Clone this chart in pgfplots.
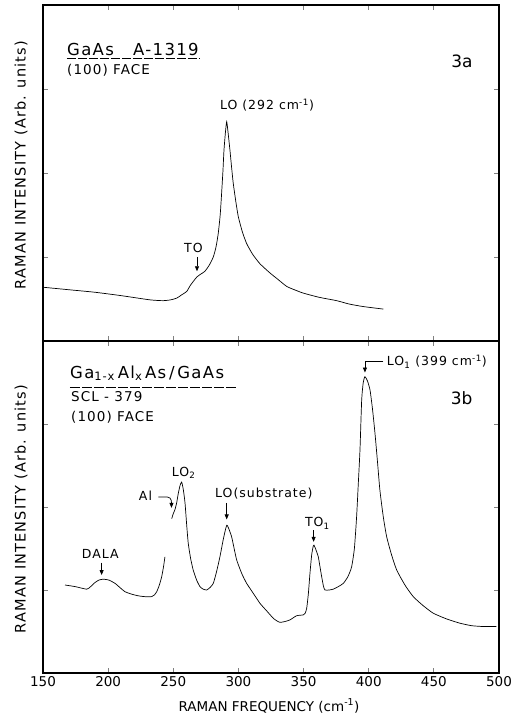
\documentclass[border=0pt]{standalone}
\usepackage{pgfplots}
\pgfplotsset{compat=1.18}
\usepackage{fontspec}
\setmainfont{DejaVu Sans}
\newfontfamily\wide{DejaVu Sans}[LetterSpace=8]
\usetikzlibrary{arrows.meta}

\pgfplotsset{
  raman/.style={
    scale only axis,
    width=456pt,
    xmin=150, xmax=500,
    ymin=0, ymax=4,
    xtick={150,200,...,500},
    ytick={1,2,3},
    yticklabels={},
    tick align=inside,
    major tick length=5pt,
    tick style={line width=0.9pt},
    axis line style={line width=1.4pt},
    clip=false,
    /pgf/number format/assume math mode=true,
    ticklabel style={font=\fontsize{13.5}{15}\selectfont},
  },
  spec/.style={black, line width=0.7pt, smooth, tension=0.35},
}

\begin{document}
\begin{tikzpicture}
\useasboundingbox (0,0) rectangle (514pt,715pt);
\tikzset{ann/.style={font=\wide\fontsize{12.5}{14}\selectfont, inner sep=0pt},
         big/.style={font=\wide\fontsize{16.5}{18}\selectfont},
         mid/.style={font=\wide\fontsize{13.5}{15}\selectfont},
         ylab/.style={rotate=90, font=\wide\fontsize{14.5}{16}\selectfont},
         arr/.style={-{Triangle[length=5pt,width=4pt]}, line width=0.7pt}}

% panel 3a
\begin{axis}[raman, height=336pt, at={(43pt,374pt)}, anchor=south west,
  xticklabels={}]
\addplot[spec] coordinates {
(150,0.64)(170,0.61)(190,0.58)(210,0.54)(232,0.49)(242.3,0.48)(248,0.49)(252.6,0.51)
(256.5,0.55)(260.3,0.59)(263,0.66)(265.4,0.71)(268,0.76)(270.5,0.79)(272.5,0.81)
(274.3,0.83)(277.5,0.90)(280.7,1.00)(282.8,1.12)(284.5,1.28)(286,1.50)(287.1,1.76)
(288.1,2.02)(288.9,2.27)(290,2.48)(291,2.61)(292.2,2.46)(293.5,2.27)(294.8,2.06)
(296,1.88)(297.9,1.67)(299.9,1.48)(303,1.30)(306.3,1.16)(311,1.03)(316.5,0.92)
(324.2,0.81)(330.6,0.73)(337,0.65)(343,0.61)(349.8,0.57)(362,0.52)(375.4,0.48)
(385,0.44)(395.8,0.41)(411.2,0.38)};
\node[ann, big, anchor=base west] at (axis cs:168.4,3.40) {GaAs};
\node[ann, big, anchor=base west] at (axis cs:219.1,3.40) {A-1319};
\draw[line width=0.6pt, dash pattern=on 9pt off 2pt] (axis cs:168.4,3.36) -- (axis cs:270,3.36);
\node[ann, mid, anchor=base west] at (axis cs:168.4,3.17) {(100) FACE};
\node[ann, anchor=base, font=\fontsize{17}{19}\selectfont] at (axis cs:471.6,3.25) {3a};
\node[ann, anchor=base] at (axis cs:321.9,2.75) {LO (292 cm\textsuperscript{-1})};
\node[ann, anchor=base] at (axis cs:265.5,1.05) {TO};
\draw[arr] (axis cs:268.2,1.0) -- (axis cs:268.2,0.83);
\end{axis}

% panel 3b
\begin{axis}[raman, height=332pt, at={(43pt,42pt)}, anchor=south west]
\addplot[spec] coordinates {
(166.9,1.06)(175,1.04)(183.5,1.01)(186.5,1.04)(189.9,1.09)(193,1.12)(196.3,1.13)
(200.5,1.12)(205.3,1.08)(209,1.03)(212.9,0.98)(218,0.95)(223.1,0.93)(228,0.92)
(233.4,0.92)(235.5,0.94)(237.3,0.98)(239.3,1.06)(241.1,1.16)(242.5,1.28)(243.6,1.40)};
\addplot[spec] coordinates {
(248.8,1.86)(250,1.92)(251.3,1.97)(252.6,2.05)(253.8,2.16)(255.2,2.26)(256.4,2.30)
(257.6,2.22)(259,2.05)(260.3,1.78)(261.5,1.56)(263.3,1.38)(265.3,1.24)(267.9,1.12)
(270.5,1.04)(273,1.01)(275.6,1.00)(278.2,1.03)(280.7,1.08)(283.2,1.22)(285.8,1.40)
(288.5,1.62)(291,1.78)(292.8,1.73)(294.8,1.64)(296.7,1.50)(298.7,1.36)(302.5,1.20)
(306.3,1.08)(311.4,0.96)(316.5,0.84)(321.6,0.75)(326.7,0.66)(329.3,0.63)(331.9,0.61)
(335.7,0.62)(339.6,0.64)(344.7,0.69)(349.8,0.70)(351.2,0.72)(352.4,0.78)(353.7,0.96)
(354.9,1.20)(356.2,1.42)(357.3,1.52)(358,1.54)(359.6,1.48)(361.3,1.40)(362.6,1.28)
(363.9,1.16)(365.2,1.05)(366.4,1.00)(369.6,1.00)(372.8,1.01)(376.6,1.04)(380.5,1.08)
(384,1.16)(386.9,1.28)(389,1.50)(390.7,1.88)(392,2.28)(393.3,2.69)(394.6,3.29)
(395.8,3.50)(397.1,3.57)(399,3.52)(401,3.41)(402.9,3.18)(404.8,2.89)(406.7,2.55)
(408.6,2.20)(411.2,1.88)(413.8,1.64)(417.6,1.42)(421.5,1.24)(427.8,1.06)(434.2,0.92)
(441.9,0.81)(449.6,0.72)(460,0.65)(470,0.60)(479,0.57)(487.9,0.56)(498,0.56)};
\node[ann, big, anchor=base west] at (axis cs:170.7,3.55) {Ga\textsubscript{1-x}\,Al\textsubscript{x}\,As\,/\,GaAs};
\draw[line width=0.6pt, dash pattern=on 10pt off 2pt] (axis cs:170.7,3.44) -- (axis cs:299.6,3.44);
\node[ann, mid, anchor=base west] at (axis cs:171.5,3.27) {SCL - 379};
\node[ann, mid, anchor=base west] at (axis cs:171.5,3.03) {(100) FACE};
\node[ann, anchor=base, font=\fontsize{17}{19}\selectfont] at (axis cs:471.3,3.23) {3b};
\node[ann, anchor=base west] at (axis cs:413.8,3.70) {LO\textsubscript{1} (399 cm\textsuperscript{-1})};
\draw[arr] (axis cs:411.2,3.76) -- (axis cs:397.1,3.76) -- (axis cs:397.1,3.62);
\node[ann, anchor=base west] at (axis cs:248.8,2.37) {LO\textsubscript{2}};
\node[ann, anchor=base west] at (axis cs:223.5,2.08) {Al};
\draw[arr] (axis cs:238.5,2.12) -- (axis cs:245.5,2.12) to[out=0,in=90] (axis cs:248.6,1.99);
\node[ann, anchor=base west] at (axis cs:282,2.12) {LO(substrate)};
\draw[arr] (axis cs:291,2.05) -- (axis cs:291,1.85);
\node[ann, anchor=base west] at (axis cs:351,1.76) {TO\textsubscript{1}};
\draw[arr] (axis cs:357.7,1.72) -- (axis cs:357.7,1.58);
\node[ann, anchor=base west] at (axis cs:179.7,1.38) {DALA};
\draw[arr] (axis cs:195,1.33) -- (axis cs:195,1.18);
\end{axis}

\node[ylab] at (21pt,550pt) {RAMAN INTENSITY (Arb. units)};
\node[ylab] at (21pt,206pt) {RAMAN INTENSITY (Arb. units)};
\node[font=\fontsize{13.5}{15}\selectfont] at (269pt,9pt) {RAMAN FREQUENCY (cm\textsuperscript{-1})};
\end{tikzpicture}
\end{document}
